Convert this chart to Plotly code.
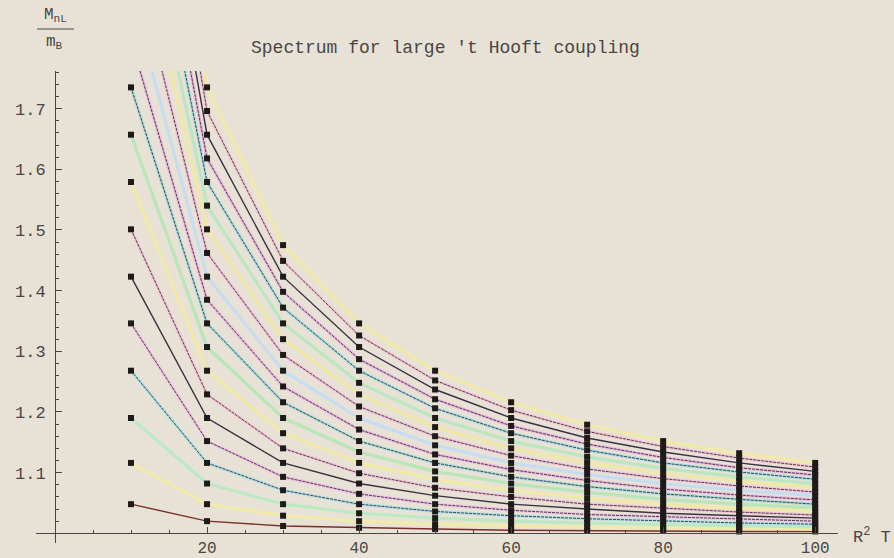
import plotly.graph_objects as go

# x positions (R^2 T)
x_vals = [10, 20, 30, 40, 50, 60, 70, 80, 90, 100]

# mass ratios per column, level n = 1..20
m10 = [1.048, 1.116, 1.190, 1.268, 1.346, 1.423, 1.501, 1.579, 1.657, 1.735,
       1.813, 1.891, 1.969, 2.047, 2.125, 2.203, 2.281, 2.359, 2.437, 2.515]
m20 = [1.020, 1.048, 1.082, 1.116, 1.152, 1.190, 1.229, 1.268, 1.307, 1.346,
       1.385, 1.423, 1.462, 1.501, 1.540, 1.579, 1.618, 1.657, 1.696, 1.735]
m30 = [1.012, 1.029, 1.048, 1.071, 1.093, 1.116, 1.140, 1.165, 1.190, 1.216,
       1.242, 1.268, 1.294, 1.320, 1.346, 1.372, 1.398, 1.423, 1.449, 1.475]
m40 = [1.009, 1.020, 1.033, 1.048, 1.065, 1.082, 1.099, 1.116, 1.134, 1.152,
       1.171, 1.190, 1.209, 1.229, 1.248, 1.268, 1.287, 1.307, 1.326, 1.346]
m50 = [1.007, 1.015, 1.025, 1.036, 1.048, 1.062, 1.075, 1.089, 1.102, 1.116,
       1.130, 1.145, 1.160, 1.175, 1.190, 1.206, 1.221, 1.237, 1.252, 1.268]
m60 = [1.005, 1.012, 1.020, 1.029, 1.038, 1.048, 1.060, 1.071, 1.082, 1.093,
       1.105, 1.116, 1.128, 1.140, 1.152, 1.165, 1.177, 1.190, 1.203, 1.216]
m70 = [1.004, 1.010, 1.017, 1.024, 1.031, 1.040, 1.048, 1.058, 1.068, 1.077,
       1.087, 1.097, 1.106, 1.116, 1.126, 1.137, 1.147, 1.157, 1.168, 1.179]
m80 = [1.004, 1.009, 1.014, 1.020, 1.027, 1.033, 1.041, 1.048, 1.056, 1.065,
       1.073, 1.082, 1.090, 1.099, 1.107, 1.116, 1.125, 1.134, 1.143, 1.152]
m90 = [1.003, 1.008, 1.012, 1.017, 1.023, 1.029, 1.035, 1.041, 1.048, 1.056,
       1.063, 1.071, 1.078, 1.086, 1.093, 1.101, 1.108, 1.116, 1.124, 1.132]
m100 = [1.003, 1.007, 1.011, 1.015, 1.020, 1.025, 1.030, 1.036, 1.042, 1.048,
        1.055, 1.062, 1.068, 1.075, 1.082, 1.089, 1.096, 1.102, 1.109, 1.116]

columns = [m10, m20, m30, m40, m50, m60, m70, m80, m90, m100]

x_ticks = [20, 40, 60, 80, 100]
y_ticks = [1.1, 1.2, 1.3, 1.4, 1.5, 1.6, 1.7]
y_tick_text = ["1.1", "1.2", "1.3", "1.4", "1.5", "1.6", "1.7"]

line_colors = ["#7a2e28", "#f1ebab", "#bde8c4", "#b2dfe3", "#efc0e2", "#3a3040",
               "#f3c4d4", "#f1e9a8", "#b9e6b8", "#aedcdc", "#ecbce0", "#c6dcf0",
               "#f2c2d8", "#f0e8a6", "#bae7bf", "#acdde0", "#ebb9df", "#3a3046",
               "#f3c6d2", "#f1e9aa"]
dark_overlay = [False, False, False, True, True, False, True, False, False, True,
                True, False, True, False, False, True, True, False, True, False]
dark_solid = ["#7a2e28", "#3a3040", "#3a3046"]

BG = "#e8e2d6"
INK = "#4a4644"
FONT = "Liberation Mono, Courier New, monospace"

fig = go.Figure()

n_levels = len(m10)
for i in range(n_levels):
    ys = [col[i] for col in columns]
    col = line_colors[i]
    w = 1.4 if col in dark_solid else 3.2
    fig.add_trace(go.Scatter(x=x_vals, y=ys, mode="lines",
                             line=dict(color=col, width=w),
                             hoverinfo="skip", showlegend=False))
    if dark_overlay[i]:
        fig.add_trace(go.Scatter(x=x_vals, y=ys, mode="lines",
                                 line=dict(color="#2f2a34", width=1.0, dash="3px,1px"),
                                 opacity=0.85,
                                 hoverinfo="skip", showlegend=False))

px_all, py_all = [], []
for xv, col in zip(x_vals, columns):
    for v in col:
        px_all.append(xv)
        py_all.append(v)
fig.add_trace(go.Scatter(x=px_all, y=py_all, mode="markers",
                         marker=dict(symbol="square", size=6, color="#1e1a1a"),
                         hoverinfo="skip", showlegend=False))

x_range = [-2.5, 103]
y_range = [0.984, 1.762]

ML, MR, MT, MB = 36, 56, 71, 15
PW = 894 - ML - MR
PH = 558 - MT - MB


def px_to_paper(px, py):
    return (px - ML) / PW, 1 - (py - MT) / PH


fig.update_layout(
    width=894, height=558,
    margin=dict(l=ML, r=MR, t=MT, b=MB),
    paper_bgcolor=BG, plot_bgcolor=BG,
    font=dict(family=FONT, color=INK, size=17),
    xaxis=dict(range=x_range, showgrid=False, zeroline=False, automargin=False,
               showline=True, linecolor=INK, linewidth=1,
               anchor="free", position=(1.0 - y_range[0]) / (y_range[1] - y_range[0]),
               tickmode="array", tickvals=x_ticks, ticktext=[str(v) for v in x_ticks],
               ticks="inside", ticklen=6, tickcolor=INK,
               tickfont=dict(size=16, family=FONT, color=INK),
               minor=dict(tickmode="linear", tick0=0, dtick=5, ticks="inside",
                          ticklen=3, tickcolor=INK)),
    yaxis=dict(range=y_range, showgrid=False, zeroline=False, automargin=False,
               showline=True, linecolor=INK, linewidth=1,
               anchor="free", position=(0 - x_range[0]) / (x_range[1] - x_range[0]),
               tickmode="array", tickvals=y_ticks, ticktext=y_tick_text,
               ticks="inside", ticklen=6, tickcolor=INK, ticklabelstandoff=6,
               tickfont=dict(size=17, family=FONT, color=INK),
               minor=dict(tickmode="linear", tick0=1.0, dtick=0.02, ticks="inside",
                          ticklen=3, tickcolor=INK)),
)

tx, ty = px_to_paper(445, 48)
nx, ny = px_to_paper(55, 27)
dx, dy = px_to_paper(54, 31)
rx, ry = px_to_paper(851, 536)
bx0, by = px_to_paper(37, 29)
bx1, _ = px_to_paper(74, 29)

fig.update_layout(
    annotations=[
        dict(text="Spectrum for large 't Hooft coupling", x=tx, y=ty, xref="paper", yref="paper",
             xanchor="center", yanchor="middle",
             showarrow=False, font=dict(size=18, family=FONT, color=INK)),
        dict(text="M<sub>nL</sub>", x=nx, y=ny, xref="paper", yref="paper",
             xanchor="center", yanchor="bottom",
             showarrow=False, font=dict(size=16, family=FONT, color=INK)),
        dict(text="m<sub>B</sub>", x=dx, y=dy, xref="paper", yref="paper",
             xanchor="center", yanchor="top",
             showarrow=False, font=dict(size=16, family=FONT, color=INK)),
        dict(text="R<sup>2</sup> T", x=rx, y=ry, xref="paper", yref="paper",
             xanchor="left", yanchor="middle",
             showarrow=False, font=dict(size=17, family=FONT, color=INK)),
    ],
    shapes=[
        dict(type="line", xref="paper", yref="paper", x0=bx0, x1=bx1, y0=by, y1=by,
             line=dict(color=INK, width=1.2)),
    ],
)

fig.write_html(
    "out.html",
    config={"displayModeBar": False},
    post_script="document.body.style.margin='0';document.body.style.background='" + BG + "';",
)
